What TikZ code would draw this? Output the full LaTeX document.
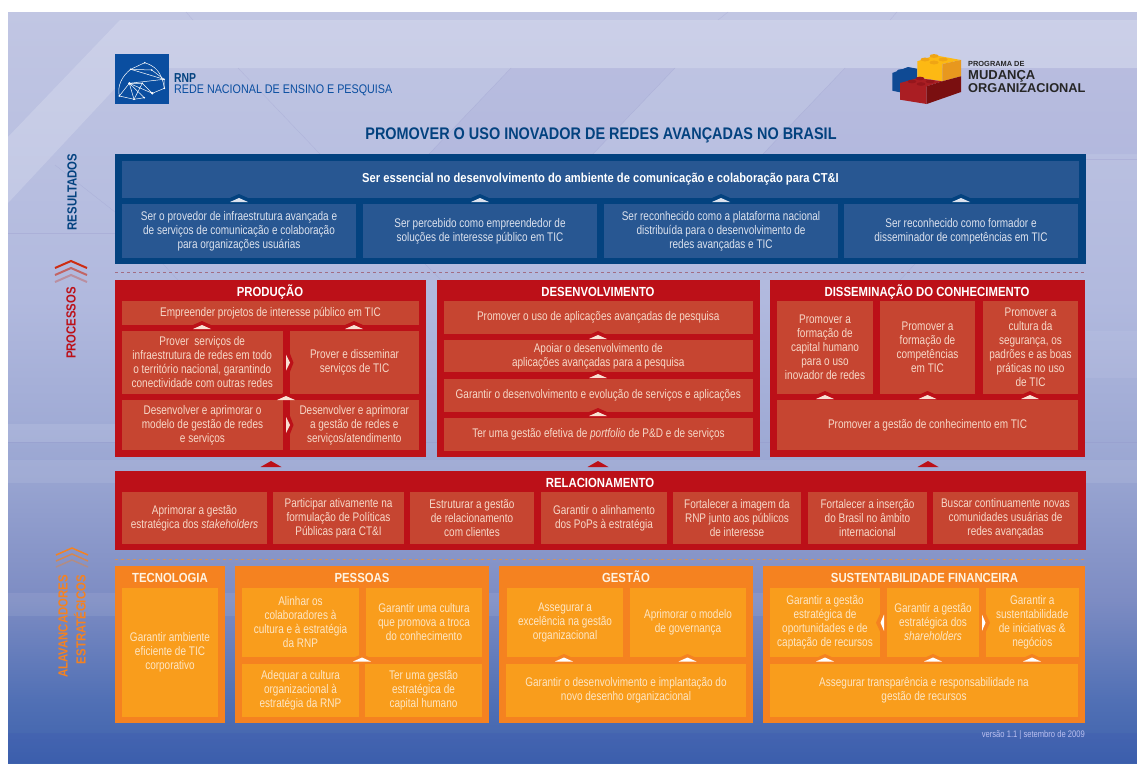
\documentclass[tikz,border=0pt]{standalone}
\usepackage{fontspec}
\setmainfont{Liberation Sans}
\newfontfamily\cellfont{Liberation Sans}[FakeStretch=0.8]
\newfontfamily\headfont{Liberation Sans}[FakeStretch=0.86]
\definecolor{blueOuter}{HTML}{03427F}
\definecolor{blueCell}{HTML}{285792}
\definecolor{blueText}{HTML}{DCE2EE}
\definecolor{redOuter}{HTML}{BC1018}
\definecolor{redCell}{HTML}{C64531}
\definecolor{redText}{HTML}{F6D8C8}
\definecolor{orangeOuter}{HTML}{F58220}
\definecolor{orangeCell}{HTML}{F99D1C}
\definecolor{orangeText}{HTML}{FDE6C4}
\definecolor{rnpBlue}{RGB}{10,78,160}
\definecolor{brickBlue}{RGB}{15,74,148}
\definecolor{brickYellow}{RGB}{253,185,19}
\definecolor{brickYellowD}{RGB}{232,152,30}
\definecolor{brickStud}{RGB}{240,165,20}
\definecolor{brickRed}{RGB}{170,30,35}
\definecolor{brickRedD}{RGB}{122,15,16}
\definecolor{brickRedS}{RGB}{150,22,28}
\tikzset{
  celltext/.style={align=center,inner sep=0pt,font=\cellfont\fontsize{12.5}{14}\selectfont},
  bluecell/.style={fill=blueCell},
  redcell/.style={fill=redCell},
  orangecell/.style={fill=orangeCell},
  bluetext/.style={celltext,text=blueText},
  redtext/.style={celltext,text=redText},
  orangetext/.style={celltext,text=orangeText},
  headtext/.style={anchor=base,inner sep=0pt,font=\headfont\bfseries\fontsize{13.2}{15}\selectfont},
  sidetext/.style={inner sep=0pt,rotate=90,align=right,font=\headfont\bfseries\fontsize{13.2}{18}\selectfont},
  facetline/.style={white!60!blue!55!gray,opacity=0.25,line width=0.4pt},
}
\begin{document}
\begin{tikzpicture}[x=1pt,y=1pt,yscale=-1,xscale=1]
\useasboundingbox (0,0) rectangle (1137,763);

% --- BACKGROUND ---
\fill[white] (0,0) rectangle (1137,763);
\fill[top color={rgb,255:red,193;green,198;blue,227},bottom color={rgb,255:red,177;green,185;blue,222}] (8,12) rectangle (1137,300);
\fill[top color={rgb,255:red,177;green,185;blue,222},bottom color={rgb,255:red,154;green,166;blue,210}] (8,300) rectangle (1137,470);
\fill[top color={rgb,255:red,154;green,166;blue,210},bottom color={rgb,255:red,125;green,140;blue,195}] (8,470) rectangle (1137,600);
\fill[top color={rgb,255:red,125;green,140;blue,195},bottom color={rgb,255:red,81;green,112;blue,181}] (8,600) rectangle (1137,700);
\fill[top color={rgb,255:red,81;green,112;blue,181},bottom color={rgb,255:red,62;green,98;blue,172}] (8,700) rectangle (1137,763);

% facets
\fill[white,opacity=0.18] (8,137) -- (120,20) -- (1137,20) -- (1137,68) -- (134,68) -- (8,203) -- cycle;
\fill[black!40!blue,opacity=0.03] (511,68) -- (675,68) -- (593,154) -- (429,154) -- cycle;
\fill[black!40!blue,opacity=0.03] (845,68) -- (1137,68) -- (1137,154) -- (763,154) -- cycle;
\fill[white,opacity=0.10] (8,424) rectangle (115,442);
\fill[white,opacity=0.08] (8,460) rectangle (1137,483);
\fill[white,opacity=0.08] (8,593) rectangle (770,616);
\fill[white,opacity=0.06] (1086,331) rectangle (1137,378);
\fill[black!30!blue,opacity=0.04] (8,733) rectangle (1137,763);
\draw[facetline] (186,12) -- (193,20);
\draw[facetline] (728,12) -- (718,20);
\draw[facetline] (897,12) -- (890,20);
\draw[facetline] (238,68) -- (320,154);
\draw[facetline] (511,68) -- (429,154);
\draw[facetline] (675,68) -- (593,154);
\draw[facetline] (845,68) -- (763,154);
\draw[facetline] (8,233) -- (115,233);
\draw[facetline] (55,165) -- (115,212);
\draw[facetline] (163,264) -- (178,280);
\draw[facetline] (425,264) -- (441,280);
\draw[facetline] (915,264) -- (900,280);
\draw[facetline] (1086,159) -- (1137,159);
\draw[facetline] (8,442) -- (1137,442);

% --- RNP LOGO ---
\fill[rnpBlue] (115,54) rectangle (169,104);
\draw[white,line width=0.5pt] (144.7,62.7) -- (130.7,69.3) -- (151.7,70) -- (164,79.3) -- (164.3,88.3) -- (152.3,93.3) -- (129.3,83.3) -- (142.3,83.3) -- (152.3,93.3);
\draw[white,line width=0.5pt] (144.7,62.7) .. controls (155,66) and (162,72) .. (164.3,88.3);
\draw[white,line width=0.5pt] (130.7,69.3) .. controls (122,76) and (117,86) .. (119.3,96) -- (134,99.3) -- (144.3,97.7) -- (129.3,83.3) -- (119.3,96);
\draw[white,line width=0.5pt] (129.3,83.3) -- (134,99.3) -- (142.3,83.3);
\draw[white,line width=0.5pt] (130.7,69.3) -- (164,79.3) -- (129.3,83.3);
\foreach \dotx/\doty in {144.7/62.7,130.7/69.3,151.7/70,164/79.3,164.3/88.3,119.3/96,134/99.3,144.3/97.7,142.3/83.3}
  \fill[white] (\dotx,\doty) circle (0.9);
\fill[white] (129.3,83.3) circle (1.3);
\fill[white] (152.3,93.3) circle (1.3);
\node[anchor=base west,inner sep=0pt,text=blueOuter,font=\cellfont\bfseries\fontsize{13}{13}\selectfont] (rnpname) at (174,82) {RNP};
\node[anchor=base west,inner sep=0pt,text=rnpBlue,font=\headfont\fontsize{12.5}{12}\selectfont] (rnpfull) at (174,93.5) {REDE NACIONAL DE ENSINO E PESQUISA};

% --- BRICK LOGO ---
\fill[brickBlue] (892.3,73) -- (908,67) -- (917,68.7) -- (917,82) -- (900,87) -- (900,92.3) -- (892.3,90.7) -- cycle;
\fill[brickBlue] (901,71) ellipse (4 and 1.8);
\fill[brickYellow] (917.3,61.3) -- (935,55.3) -- (961,60) -- (942.3,64) -- (942.3,81.3) -- (917.3,77.3) -- cycle;
\fill[brickYellowD] (942.3,64) -- (961,60) -- (961,76.3) -- (942.3,81.3) -- cycle;
\foreach \studx/\study in {934/56,925/59.5,943/59.5,934/62.5}
  \fill[brickStud] (\studx,\study) ellipse (4.5 and 1.9);
\fill[brickRed] (900,83) -- (918.3,78) -- (942.3,81.3) -- (926.7,86.3) -- (926.7,104) -- (900,99.7) -- cycle;
\fill[brickRedD] (926.7,86.3) -- (942.3,81.3) -- (961,76.3) -- (961,92) -- (926.7,104) -- cycle;
\foreach \studx/\study in {920/78.5,912/81.5,930/81.5,921/84}
  \fill[brickRedS] (\studx,\study) ellipse (4.3 and 1.8);
\node[anchor=base west,inner sep=0pt,text=black!85,font=\bfseries\fontsize{7.4}{7}\selectfont] (progname) at (968,66) {PROGRAMA DE};
\node[anchor=base west,inner sep=0pt,text=black!85,font=\bfseries\fontsize{13}{13}\selectfont] (progmud) at (968,79.5) {MUDANÇA};
\node[anchor=base west,inner sep=0pt,text=black!85,font=\bfseries\fontsize{12.8}{13}\selectfont] (progorg) at (968,92) {ORGANIZACIONAL};

% --- TITLE ---
\node[inner sep=0pt,text=blueOuter,font=\headfont\bfseries\fontsize{16.8}{18}\selectfont] (title) at (601,135) {PROMOVER O USO INOVADOR DE REDES AVANÇADAS NO BRASIL};

% --- SIDE LABELS ---
\node[sidetext,text=blueOuter] (sideres) at (72,192) {RESULTADOS};
\node[sidetext,text=redOuter] (sidepro) at (71,323) {PROCESSOS};
\node[sidetext,text=orangeOuter] (sideala) at (72,626.5) {ALAVANCADORES\\ESTRATÉGICOS};
\foreach \cy/\op in {261/1,268/0.6,275/0.3}
  \draw[redOuter!75!orange,opacity=\op,line width=2pt] (55,\cy+7) -- (71,\cy) -- (87,\cy+7);
\foreach \cy/\op in {548/1,554/0.7,560/0.4}
  \draw[orangeOuter,opacity=\op,line width=1.5pt] (56,\cy+7) -- (72,\cy) -- (88,\cy+7);

% --- RESULTADOS ---
\fill[blueOuter] (115,154) rectangle (1086,264);
\draw[bluecell,draw=none] (122,161) rectangle (1079,198) node[midway,celltext,text=white,font=\headfont\bfseries\fontsize{13}{14}\selectfont] (res0) {Ser essencial no desenvolvimento do ambiente de comunicação e colaboração para CT\&I};
\draw[bluecell,draw=none] (122,204) rectangle (356,258) node[midway,bluetext] (res1) {Ser o provedor de infraestrutura avançada e\\de serviços de comunicação e colaboração\\para organizações usuárias};
\draw[bluecell,draw=none] (363,204) rectangle (597,258) node[midway,bluetext] (res2) {Ser percebido como empreendedor de\\soluções de interesse público em TIC};
\draw[bluecell,draw=none] (604,204) rectangle (838,258) node[midway,bluetext] (res3) {Ser reconhecido como a plataforma nacional\\distribuída para o desenvolvimento de\\redes avançadas e TIC};
\draw[bluecell,draw=none] (844,204) rectangle (1078,258) node[midway,bluetext] (res4) {Ser reconhecido como formador e\\disseminador de competências em TIC};
\foreach \mx in {239,480,721,961}{
  \fill[blueOuter] (\mx-9,198) -- (\mx,194) -- (\mx+9,198) -- cycle;
  \fill[blueText] (\mx-9,202) -- (\mx,198) -- (\mx+9,202) -- cycle;
}

\draw[dashed,redOuter!55!blueCell!70!white,line width=0.6pt] (115,272) -- (1086,272);

% --- PROCESSOS ---
\fill[redOuter] (114.5,280) rectangle (426,457);
\fill[redOuter] (437,280) rectangle (760,457);
\fill[redOuter] (770,280) rectangle (1085,457);
\node[headtext,text=white] (prodhead) at (270,296) {PRODUÇÃO};
\node[headtext,text=white] (deshead) at (598,296) {DESENVOLVIMENTO};
\node[headtext,text=white] (dishead) at (927,296) {DISSEMINAÇÃO DO CONHECIMENTO};

% Producao
\draw[redcell,draw=none] (122,301) rectangle (419,325) node[midway,redtext] (prod1) {Empreender projetos de interesse público em TIC};
\draw[redcell,draw=none] (122,331) rectangle (282.5,394) node[midway,redtext] (prod2) {Prover~ serviços de\\infraestrutura de redes em todo\\o território nacional, garantindo\\conectividade com outras redes};
\draw[redcell,draw=none] (290,331) rectangle (419,394) node[midway,redtext] (prod3) {Prover e disseminar\\serviços de TIC};
\draw[redcell,draw=none] (122,400) rectangle (283,450) node[midway,redtext] (prod4) {Desenvolver e aprimorar o\\modelo de gestão de redes\\e serviços};
\draw[redcell,draw=none] (289.5,400) rectangle (419,450) node[midway,redtext] (prod5) {Desenvolver e aprimorar\\a gestão de redes e\\serviços/atendimento};

% Desenvolvimento
\draw[redcell,draw=none] (444,301) rectangle (752.5,333.5) node[midway,redtext] (des1) {Promover o uso de aplicações avançadas de pesquisa};
\draw[redcell,draw=none] (444,340) rectangle (752.5,372) node[midway,redtext] (des2) {Apoiar o desenvolvimento de\\aplicações avançadas para a pesquisa};
\draw[redcell,draw=none] (444,379) rectangle (752.5,411.5) node[midway,redtext] (des3) {Garantir o desenvolvimento e evolução de serviços e aplicações};
\draw[redcell,draw=none] (444,418) rectangle (753,451) node[midway,redtext] (des4) {Ter uma gestão efetiva de \textit{portfolio} de P\&D e de serviços};

% Disseminacao
\draw[redcell,draw=none] (777,301) rectangle (873,394) node[midway,redtext] (dis1) {Promover a\\formação de\\capital humano\\para o uso\\inovador de redes};
\draw[redcell,draw=none] (880,301) rectangle (975,394) node[midway,redtext] (dis2) {Promover a\\formação de\\competências\\em TIC};
\draw[redcell,draw=none] (983,301) rectangle (1078,394) node[midway,redtext] (dis3) {Promover a\\cultura da\\segurança, os\\padrões e as boas\\práticas no uso\\de TIC};
\draw[redcell,draw=none] (777,400) rectangle (1078,450) node[midway,redtext] (dis4) {Promover a gestão de conhecimento em TIC};

\foreach \mx/\my in {202/321,354/321,286/392,598/331,598/370,598/408,825/391,927.5/391,1030/391}{
  \fill[redOuter] (\mx-9,\my+4) -- (\mx,\my) -- (\mx+9,\my+4) -- cycle;
  \fill[redText!80!white] (\mx-9,\my+8) -- (\mx,\my+4) -- (\mx+9,\my+8) -- cycle;
}
\foreach \my in {362.7,425}{
  \fill[redOuter] (290,\my-9) -- (293.5,\my) -- (290,\my+9) -- cycle;
  \fill[redText!80!white] (286,\my-8) -- (290,\my) -- (286,\my+8) -- cycle;
}

% arrows up from relacionamento
\foreach \mx in {271,598,928}
  \fill[redOuter] (\mx-10.5,467) -- (\mx,461) -- (\mx+10.5,467) -- cycle;

% --- RELACIONAMENTO ---
\fill[redOuter] (115,471) rectangle (1086,550);
\node[headtext,text=white] (relhead) at (600,487) {RELACIONAMENTO};
\draw[redcell,draw=none] (122,492) rectangle (267,544) node[midway,redtext] (rel1) {Aprimorar a gestão\\estratégica dos \textit{stakeholders}};
\draw[redcell,draw=none] (273,492) rectangle (404,544) node[midway,redtext] (rel2) {Participar ativamente na\\formulação de Políticas\\Públicas para CT\&I};
\draw[redcell,draw=none] (410,492) rectangle (534,544) node[midway,redtext] (rel3) {Estruturar a gestão\\de relacionamento\\com clientes};
\draw[redcell,draw=none] (541,492) rectangle (667,544) node[midway,redtext] (rel4) {Garantir o alinhamento\\dos PoPs à estratégia};
\draw[redcell,draw=none] (673,492) rectangle (801,544) node[midway,redtext] (rel5) {Fortalecer a imagem da\\RNP junto aos públicos\\de interesse};
\draw[redcell,draw=none] (808,492) rectangle (927,544) node[midway,redtext] (rel6) {Fortalecer a inserção\\do Brasil no âmbito\\internacional};
\draw[redcell,draw=none] (933,492) rectangle (1078,544) node[midway,redtext] (rel7) {Buscar continuamente novas\\comunidades usuárias de\\redes avançadas};

\draw[dashed,orangeOuter!75!blueCell!80!white,line width=0.6pt] (115,559) -- (1086,559);

% --- ALAVANCADORES ---
\fill[orangeOuter] (115,566) rectangle (225,723);
\fill[orangeOuter] (235,566) rectangle (489,723);
\fill[orangeOuter] (499,566) rectangle (752.5,723);
\fill[orangeOuter] (763,566) rectangle (1085,723);
\node[headtext,text=orangeText!50!white] (techead) at (170,582) {TECNOLOGIA};
\node[headtext,text=orangeText!50!white] (peshead) at (362,582) {PESSOAS};
\node[headtext,text=orangeText!50!white] (geshead) at (626,582) {GESTÃO};
\node[headtext,text=orangeText!50!white] (sushead) at (924.5,582) {SUSTENTABILIDADE FINANCEIRA};

\draw[orangecell,draw=none] (122,588) rectangle (218,717) node[midway,orangetext] (tec1) {Garantir ambiente\\eficiente de TIC\\corporativo};

\draw[orangecell,draw=none] (242,588) rectangle (359,657) node[midway,orangetext] (pes1) {Alinhar os\\colaboradores à\\cultura e à estratégia\\da RNP};
\draw[orangecell,draw=none] (366,588) rectangle (482,657) node[midway,orangetext] (pes2) {Garantir uma cultura\\que promova a troca\\do conhecimento};
\draw[orangecell,draw=none] (242,664) rectangle (359,717) node[midway,orangetext] (pes3) {Adequar a cultura\\organizacional à\\estratégia da RNP};
\draw[orangecell,draw=none] (365,664) rectangle (482,717) node[midway,orangetext] (pes4) {Ter uma gestão\\estratégica de\\capital humano};

\draw[orangecell,draw=none] (507,588) rectangle (623,657) node[midway,orangetext] (ges1) {Assegurar a\\excelência na gestão\\organizacional};
\draw[orangecell,draw=none] (630,588) rectangle (746,657) node[midway,orangetext] (ges2) {Aprimorar o modelo\\de governança};
\draw[orangecell,draw=none] (506,664) rectangle (746,717) node[midway,orangetext] (ges3) {Garantir o desenvolvimento e implantação do\\novo desenho organizacional};

\draw[orangecell,draw=none] (770,588) rectangle (880,657) node[midway,orangetext] (sus1) {Garantir a gestão\\estratégica de\\oportunidades e de\\captação de recursos};
\draw[orangecell,draw=none] (887,588) rectangle (979,657) node[midway,orangetext] (sus2) {Garantir a gestão\\estratégica dos\\\textit{shareholders}};
\draw[orangecell,draw=none] (986,588) rectangle (1078.5,657) node[midway,orangetext] (sus3) {Garantir a\\sustentabilidade\\de iniciativas \&\\negócios};
\draw[orangecell,draw=none] (770,664) rectangle (1078,717) node[midway,orangetext] (sus4) {Assegurar transparência e responsabilidade na\\gestão de recursos};

\foreach \mx in {362,564,687.5,825,933,1032}{
  \fill[orangeOuter] (\mx-9,658) -- (\mx,654) -- (\mx+9,658) -- cycle;
  \fill[white] (\mx-9,661.5) -- (\mx,657.5) -- (\mx+9,661.5) -- cycle;
}
% sideways marks
\fill[orangeOuter] (880,614) -- (876,622.7) -- (880,631.5) -- cycle;
\fill[white] (884,614.5) -- (880.5,622.7) -- (884,631) -- cycle;
\fill[orangeOuter] (986,614) -- (990,622.7) -- (986,631.5) -- cycle;
\fill[white] (982,614.5) -- (985.5,622.7) -- (982,631) -- cycle;

% --- VERSION ---
\node[anchor=east,inner sep=0pt,text=blueText!85!blue,font=\cellfont\fontsize{9.5}{9}\selectfont] (version) at (1085,735) {versão 1.1 | setembro de 2009};

\end{tikzpicture}
\end{document}
